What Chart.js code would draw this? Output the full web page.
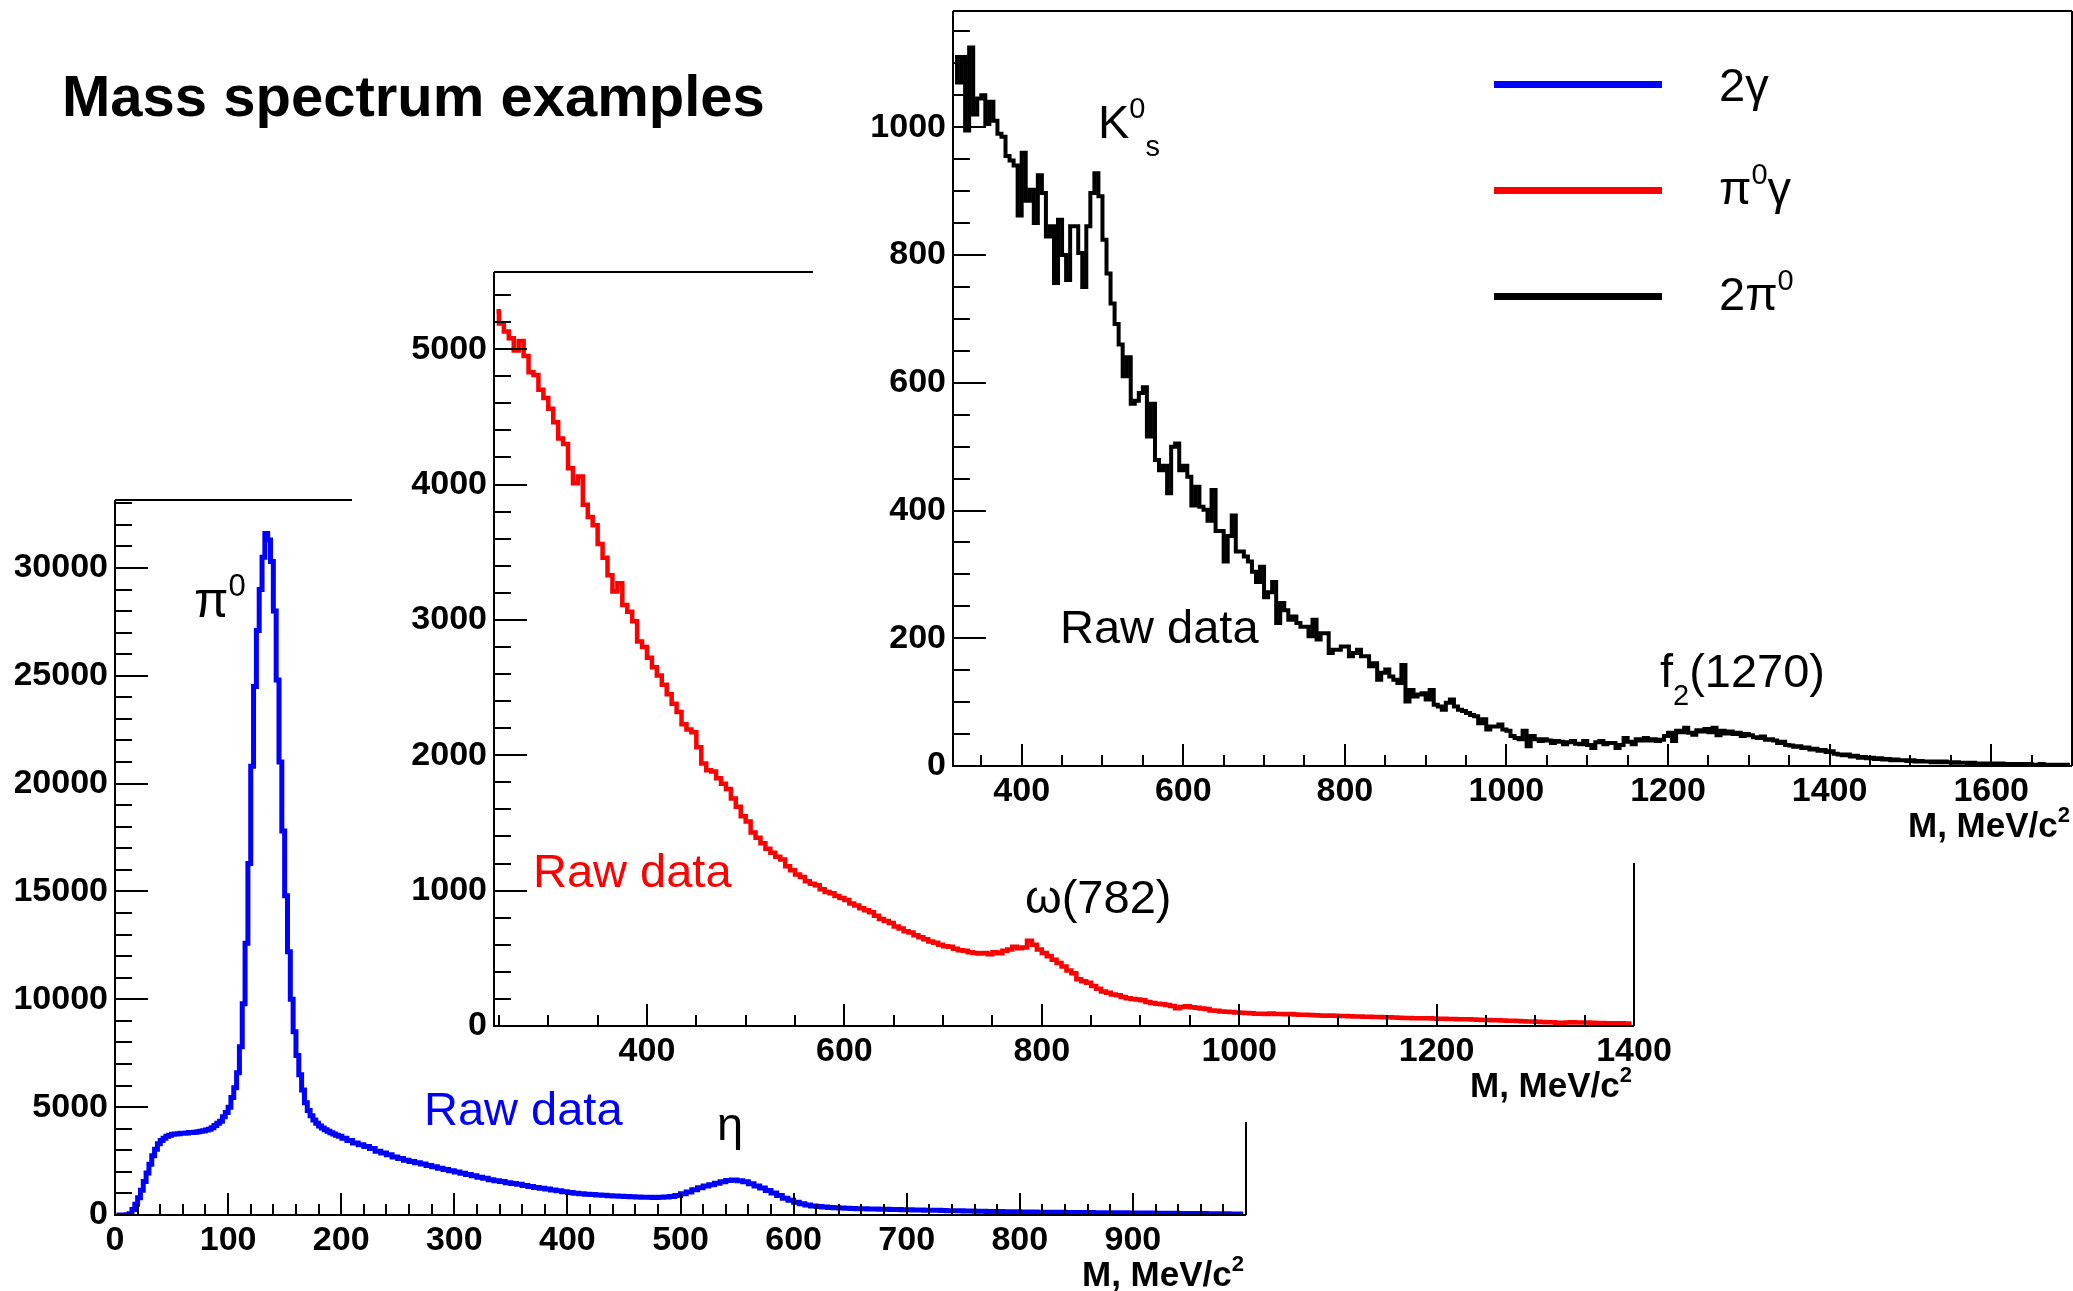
<!DOCTYPE html>
<html lang="en">
<head>
    <meta charset="UTF-8">
    <title>Mass spectrum examples</title>
    <script src="https://cdn.jsdelivr.net/npm/chart.js"></script>
    <style>
        * {
            margin: 0;
            padding: 0;
            box-sizing: border-box;
        }
        body {
            background: #fff;
            width: 2073px;
            height: 1291px;
            position: relative;
            overflow: hidden;
            font-family: "Liberation Sans", Arial, sans-serif;
        }
        canvas {
            position: absolute;
            left: 0;
            top: 0;
        }
        h1 {
            position: absolute;
            left: 62px;
            top: 67px;
            font: bold 58px/1 "Liberation Sans", Arial, sans-serif;
            color: #000;
        }
    </style>
</head>
<body>
    <h1>Mass spectrum examples</h1>
    <canvas id="ppChart" width="2073" height="1291"></canvas>
    <canvas id="pgChart" width="2073" height="1291"></canvas>
    <canvas id="ggChart" width="2073" height="1291"></canvas>
    <script>
        const W = 2073, H = 1291;

        // 2γ spectrum below 200 MeV, 2.5 MeV bins
        const ggFineStart = 0, ggFineBin = 2.5;
        const ggFineCounts = [
            0, 0, 0, 0, 10, 60, 250, 500, 800, 1150,
            1550, 1950, 2350, 2750, 3050, 3300, 3450, 3560, 3650, 3700,
            3740, 3760, 3770, 3790, 3790, 3800, 3820, 3830, 3840, 3860,
            3880, 3910, 3940, 3980, 4050, 4150, 4250, 4350, 4550, 4750,
            5000, 5450, 5900, 6600, 7800, 9800, 12600, 16300, 20800, 24500,
            27100, 29000, 30500, 31600, 31300, 30300, 28000, 24800, 21000, 17800,
            14800, 12200, 10000, 8500, 7400, 6500, 5800, 5200, 4850, 4600,
            4400, 4250, 4130, 4030, 3950, 3880, 3810, 3750, 3700, 3650
        ];
        // 2γ spectrum from 200 MeV, 5 MeV bins
        const ggStart = 200, ggBin = 5;
        const ggCounts = [
            3560, 3450, 3340, 3260, 3180, 3080, 2960, 2880, 2790, 2690,
            2620, 2540, 2480, 2420, 2360, 2300, 2240, 2170, 2110, 2050,
            1990, 1930, 1880, 1820, 1750, 1700, 1640, 1590, 1550, 1500,
            1460, 1420, 1370, 1320, 1280, 1240, 1200, 1160, 1120, 1080,
            1040, 1010, 985, 965, 945, 930, 910, 895, 880, 865,
            855, 845, 835, 825, 820, 815, 820, 835, 860, 900,
            980, 1070, 1170, 1260, 1340, 1400, 1470, 1540, 1600, 1620,
            1590, 1540, 1450, 1350, 1250, 1140, 1020, 900, 780, 680,
            590, 520, 460, 420, 390, 370, 350, 335, 320, 310,
            300, 295, 285, 280, 275, 268, 262, 258, 252, 245,
            240, 236, 230, 225, 220, 215, 208, 202, 198, 192,
            188, 182, 178, 172, 168, 163, 160, 155, 150, 147,
            143, 139, 135, 132, 129, 126, 124, 122, 120, 118,
            116, 114, 112, 110, 108, 106, 104, 102, 100, 98,
            95, 92, 90, 87, 85, 82, 80, 77, 75, 72,
            70, 67, 65, 62, 60, 57, 55, 52, 50, 47
        ];

        // π0γ spectrum, 5 MeV bins starting at 245 MeV
        const pgStart = 245, pgBin = 5;
        const pgCounts = [
            5280, 5190, 5130, 5080, 4990, 5060, 4950, 4830, 4810, 4700,
            4640, 4560, 4460, 4340, 4300, 4120, 4010, 4060, 3850, 3760,
            3700, 3560, 3460, 3330, 3210, 3270, 3110, 3060, 2990, 2840,
            2800, 2720, 2650, 2590, 2520, 2450, 2380, 2320, 2230, 2190,
            2170, 2060, 1940, 1890, 1880, 1830, 1790, 1750, 1680, 1620,
            1550, 1510, 1430, 1390, 1350, 1310, 1280, 1250, 1230, 1180,
            1150, 1120, 1100, 1070, 1050, 1040, 1010, 990, 980, 960,
            945, 930, 905, 890, 870, 855, 840, 815, 790, 775,
            760, 735, 720, 700, 690, 670, 655, 640, 625, 615,
            600, 590, 585, 570, 560, 555, 545, 540, 535, 540,
            530, 545, 537, 555, 565, 586, 575, 580, 630, 600,
            565, 540, 515, 490, 465, 440, 410, 390, 345, 330,
            320, 295, 275, 255, 245, 232, 228, 215, 205, 200,
            195, 190, 178, 170, 165, 160, 155, 148, 132, 140,
            145, 138, 135, 130, 125, 115, 112, 108, 106, 104,
            100, 98, 96, 94, 91, 90, 88, 92, 89, 88,
            86, 88, 85, 84, 84, 82, 80, 78, 76, 77,
            75, 74, 74, 72, 71, 70, 69, 68, 67, 66,
            64, 64, 62, 61, 59, 60, 58, 57, 58, 57,
            55, 54, 53, 52, 51, 50, 50, 49, 48, 46,
            45, 44, 43, 42, 40, 39, 38, 37, 35, 34,
            34, 32, 30, 28, 27, 24, 20, 26, 28, 26,
            25, 25, 24, 23, 22, 21, 20, 21, 20, 19,
            19
        ];

        // 2π0 spectrum, 5 MeV bins starting at 315 MeV
        const ppStart = 315, ppBin = 5;
        const ppCounts = [
            1110, 1070, 1110, 995, 1125, 1020, 1045, 1050, 1005, 1040,
            1010, 990, 985, 955, 948, 940, 862, 960, 885, 902,
            850, 925, 897, 829, 845, 756, 855, 800, 761, 845,
            845, 803, 750, 845, 897, 928, 892, 824, 771, 724,
            692, 660, 610, 640, 567, 572, 584, 593, 516, 567,
            479, 463, 470, 427, 500, 505, 463, 470, 453, 408,
            437, 406, 401, 384, 432, 368, 368, 320, 360, 392,
            336, 336, 328, 320, 304, 288, 312, 264, 272, 288,
            224, 255, 244, 229, 234, 224, 218, 218, 203, 229,
            198, 208, 208, 177, 182, 182, 187, 187, 172, 177,
            182, 172, 172, 156, 161, 135, 146, 151, 140, 135,
            130, 158, 101, 119, 109, 112, 114, 104, 119, 96,
            93, 88, 99, 104, 93, 88, 86, 83, 80, 78,
            67, 73, 57, 62, 62, 65, 57, 55, 47, 44,
            42, 55, 31, 47, 42, 39, 42, 40, 36, 39,
            38, 34, 37, 39, 35, 34, 39, 33, 28, 37,
            39, 34, 36, 36, 28, 33, 44, 38, 34, 42,
            40, 44, 40, 42, 39, 41, 47, 52, 39, 55,
            53, 60, 52, 49, 56, 54, 58, 53, 60, 48,
            55, 51, 54, 50, 52, 47, 50, 48, 45, 44,
            46, 41, 42, 40, 36, 38, 33, 32, 30, 31,
            28, 29, 26, 27, 24, 25, 22, 23, 19, 18,
            17, 18, 15, 16, 13, 14, 12, 13, 11, 12,
            10, 11, 9, 10, 9, 9, 8, 9, 7, 8,
            7, 7, 6, 7, 6, 7, 6, 5, 6, 5,
            5, 4, 5, 4, 4, 3, 4, 4, 3, 4,
            3, 3, 3, 2, 3, 2, 3, 2, 2, 3,
            2, 2, 1, 2, 1, 2, 1
        ];

        // tick labels
        const ggXTicks = [0, 100, 200, 300, 400, 500, 600, 700, 800, 900];
        const ggYTicks = [0, 5000, 10000, 15000, 20000, 25000, 30000];
        const pgXTicks = [400, 600, 800, 1000, 1200, 1400];
        const pgYTicks = [0, 1000, 2000, 3000, 4000, 5000];
        const ppXTicks = [400, 600, 800, 1000, 1200, 1400, 1600];
        const ppYTicks = [0, 200, 400, 600, 800, 1000];

        // legend entries: [colour, text parts]
        const legendEntries = [
            ['#0000ff', [['2γ']]],
            ['#ff0000', [['π'], ['0', 'sup'], ['γ']]],
            ['#000000', [['2π'], ['0', 'sup']]]
        ];

        const FONT = '"Liberation Sans", Arial, sans-serif';

        function toPoints(start, bin, counts) {
            return counts.map((c, i) => ({ x: start + bin * (i + 0.5), y: c }));
        }

        // text with superscripts / subscripts, left aligned at baseline
        function drawRich(ctx, parts, x, y, size, bold) {
            for (const [text, kind] of parts) {
                const s = kind ? Math.round(size * 0.62) : size;
                const dy = kind === 'sup' ? -size * 0.42 : kind === 'sub' ? size * 0.38 : 0;
                ctx.font = (bold ? 'bold ' : '') + s + 'px ' + FONT;
                ctx.fillText(text, x, y + dy);
                x += ctx.measureText(text).width;
            }
            return x;
        }

        function richWidth(ctx, parts, size, bold) {
            let w = 0;
            for (const [text, kind] of parts) {
                const s = kind ? Math.round(size * 0.62) : size;
                ctx.font = (bold ? 'bold ' : '') + s + 'px ' + FONT;
                w += ctx.measureText(text).width;
            }
            return w;
        }

        // ROOT style frame: inner ticks, partial top/right lines, axis title
        const rootFrame = {
            id: 'rootFrame',
            afterDraw(chart, args, o) {
                const { ctx, chartArea: a, scales: { x, y } } = chart;
                ctx.save();
                ctx.strokeStyle = '#000';
                ctx.lineWidth = 2;
                ctx.beginPath();
                ctx.moveTo(a.left, a.top);
                ctx.lineTo(a.left, a.bottom);
                ctx.lineTo(a.right, a.bottom);
                ctx.moveTo(a.left, a.top);
                ctx.lineTo(o.topTo || a.right, a.top);
                ctx.moveTo(a.right, o.rightFrom || a.top);
                ctx.lineTo(a.right, a.bottom);

                const xMajor = o.xMajor, yMajor = o.yMajor;
                for (let v = Math.ceil(x.min / o.xMinor) * o.xMinor; v <= x.max; v += o.xMinor) {
                    const px = Math.round(x.getPixelForValue(v));
                    const len = xMajor.includes(v) ? 22 : 11;
                    ctx.moveTo(px, a.bottom);
                    ctx.lineTo(px, a.bottom - len);
                }
                for (let v = Math.ceil(y.min / o.yMinor) * o.yMinor; v <= y.max; v += o.yMinor) {
                    const py = Math.round(y.getPixelForValue(v));
                    const len = yMajor.includes(v) ? 33 : 17;
                    ctx.moveTo(a.left, py);
                    ctx.lineTo(a.left + len, py);
                }
                ctx.stroke();

                // axis title
                ctx.fillStyle = '#000';
                const parts = [['M, MeV/c'], ['2', 'sup']];
                const w = richWidth(ctx, parts, 35, true);
                drawRich(ctx, parts, a.right - 2 - w, a.bottom + 71, 35, true);
                ctx.restore();
            }
        };

        // labels placed at data coordinates
        const labelsPlugin = {
            id: 'labels',
            afterDraw(chart, args, o) {
                const { ctx, scales: { x, y } } = chart;
                ctx.save();
                ctx.textBaseline = 'alphabetic';
                for (const t of o.items) {
                    ctx.fillStyle = t.color;
                    drawRich(ctx, t.parts, x.getPixelForValue(t.x), y.getPixelForValue(t.y), t.size || 47, false);
                }
                if (o.legend) {
                    const a = chart.chartArea;
                    o.legend.forEach(([color, parts], i) => {
                        const ly = a.top + 73.5 + i * 106;
                        ctx.strokeStyle = color;
                        ctx.lineWidth = 7;
                        ctx.beginPath();
                        ctx.moveTo(a.left + 541, ly);
                        ctx.lineTo(a.left + 709, ly);
                        ctx.stroke();
                        ctx.fillStyle = '#000';
                        drawRich(ctx, parts, a.left + 766, ly + (i === 0 ? 16 : 13), 47, false);
                    });
                }
                ctx.restore();
            }
        };

        function makeHist(id, c) {
            const tickFont = { family: FONT, size: 34, weight: 'bold' };
            return new Chart(document.getElementById(id), {
                type: 'line',
                data: {
                    datasets: [{
                        data: c.points,
                        borderColor: c.color,
                        borderWidth: c.lineWidth,
                        stepped: 'middle',
                        pointRadius: 0,
                        fill: false,
                        borderJoinStyle: 'miter'
                    }]
                },
                options: {
                    responsive: false,
                    devicePixelRatio: 1,
                    animation: false,
                    events: [],
                    layout: {
                        autoPadding: false,
                        padding: {
                            left: c.area.left - 100,
                            top: c.area.top,
                            right: W - c.area.right,
                            bottom: H - c.area.bottom - 60
                        }
                    },
                    plugins: {
                        legend: { display: false },
                        tooltip: { enabled: false },
                        rootFrame: c.frame,
                        labels: { items: c.labels, legend: c.legend }
                    },
                    scales: {
                        x: {
                            type: 'linear',
                            min: c.xMin,
                            max: c.xMax,
                            grid: { display: false, drawTicks: false },
                            border: { display: false },
                            afterBuildTicks: s => { s.ticks = c.xTicks.map(v => ({ value: v })); },
                            afterFit: s => { s.height = 60; s.paddingLeft = 0; s.paddingRight = 0; },
                            ticks: {
                                font: tickFont, color: '#000', padding: 5,
                                maxRotation: 0, autoSkip: false,
                                callback: v => String(v)
                            }
                        },
                        y: {
                            min: 0,
                            max: c.yMax,
                            grid: { display: false, drawTicks: false },
                            border: { display: false },
                            afterBuildTicks: s => { s.ticks = c.yTicks.map(v => ({ value: v })); },
                            afterFit: s => { s.width = 100; s.paddingTop = 0; s.paddingBottom = 0; },
                            ticks: {
                                font: tickFont, color: '#000', padding: 7,
                                autoSkip: false,
                                callback: v => String(v)
                            }
                        }
                    }
                },
                plugins: [rootFrame, labelsPlugin]
            });
        }

        // 2π0 (back, top right)
        makeHist('ppChart', {
            points: toPoints(ppStart, ppBin, ppCounts),
            color: '#000000',
            lineWidth: 4,
            area: { left: 953, top: 11, right: 2072, bottom: 766 },
            xMin: 315, xMax: 1700, yMax: 1182,
            xTicks: ppXTicks, yTicks: ppYTicks,
            frame: { xMajor: ppXTicks, yMajor: ppYTicks, xMinor: 50, yMinor: 50 },
            labels: [
                { x: 494.5, y: 983, color: '#000', parts: [['K'], ['0', 'sup'], ['s', 'sub']] },
                { x: 447.4, y: 192.6, color: '#000', parts: [['Raw data']] },
                { x: 1190, y: 123.7, color: '#000', parts: [['f'], ['2', 'sub'], ['(1270)']] }
            ],
            legend: legendEntries
        });

        // π0γ (middle)
        makeHist('pgChart', {
            points: toPoints(pgStart, pgBin, pgCounts),
            color: '#ff0000',
            lineWidth: 4.5,
            area: { left: 494, top: 272, right: 1634, bottom: 1026 },
            xMin: 245, xMax: 1400, yMax: 5570,
            xTicks: pgXTicks, yTicks: pgYTicks,
            frame: { xMajor: pgXTicks, yMajor: pgYTicks, xMinor: 50, yMinor: 200, topTo: 813, rightFrom: 863 },
            labels: [
                { x: 284.5, y: 1027, color: '#ff0000', parts: [['Raw data']] },
                { x: 783, y: 835, color: '#000', parts: [['ω(782)']] }
            ]
        });

        // 2γ (front, bottom left)
        makeHist('ggChart', {
            points: toPoints(ggFineStart, ggFineBin, ggFineCounts).concat(toPoints(ggStart, ggBin, ggCounts)),
            color: '#0000ff',
            lineWidth: 5,
            area: { left: 115, top: 500, right: 1246, bottom: 1215 },
            xMin: 0, xMax: 1000, yMax: 33150,
            xTicks: ggXTicks, yTicks: ggYTicks,
            frame: { xMajor: ggXTicks.concat([1000]), yMajor: ggYTicks, xMinor: 20, yMinor: 1000, topTo: 352, rightFrom: 1122 },
            labels: [
                { x: 69.8, y: 27720, color: '#000', size: 50, parts: [['π'], ['0', 'sup']] },
                { x: 273.2, y: 4172, color: '#0000ff', parts: [['Raw data']] },
                { x: 532.3, y: 3477, color: '#000', parts: [['η']] }
            ]
        });
    </script>
</body>
</html>
